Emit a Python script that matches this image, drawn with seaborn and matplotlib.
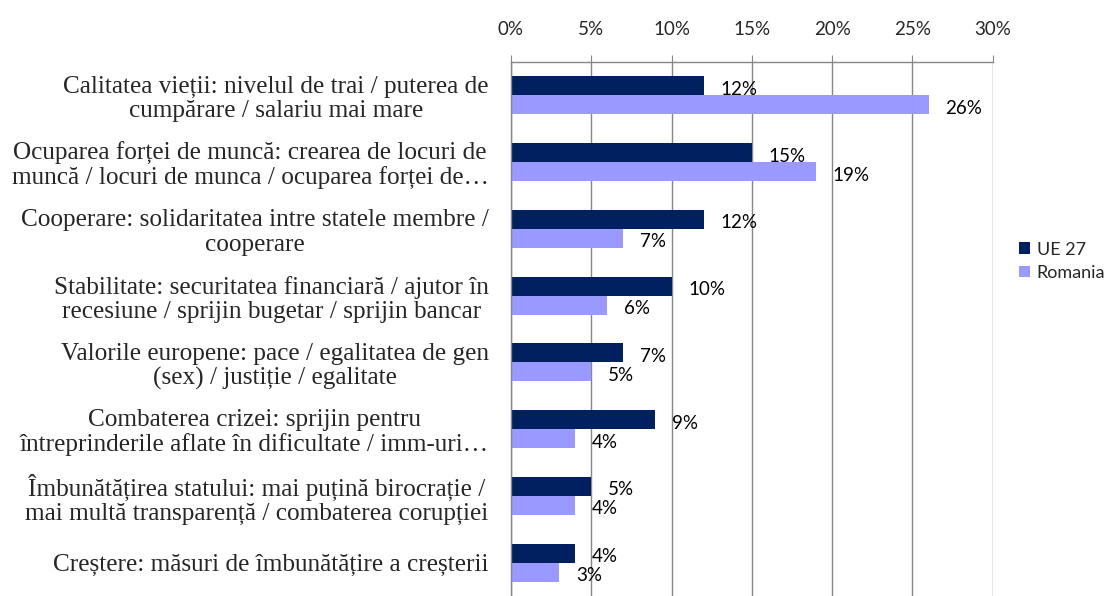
import matplotlib
matplotlib.use("Agg")
import matplotlib.pyplot as plt
import matplotlib.ticker as mticker
import numpy as np
import pandas as pd
import seaborn as sns

categories = [
    "Calitatea vieții: nivelul de trai / puterea de\ncumpărare / salariu mai mare",
    "Ocuparea forței de muncă: crearea de locuri de\nmuncă / locuri de munca / ocuparea forței de…",
    "Cooperare: solidaritatea intre statele membre /\ncooperare",
    "Stabilitate: securitatea financiară / ajutor în\nrecesiune / sprijin bugetar / sprijin bancar",
    "Valorile europene: pace / egalitatea de gen\n(sex) / justiție / egalitate",
    "Combaterea crizei: sprijin pentru\nîntreprinderile aflate în dificultate / imm-uri…",
    "Îmbunătățirea statului: mai puțină birocrație /\nmai multă transparență / combaterea corupției",
    "Creștere: măsuri de îmbunătățire a creșterii",
]
series_names = ["UE 27", "Romania"]
ue27 = [12, 15, 12, 10, 7, 9, 5, 4]
romania = [26, 19, 7, 6, 5, 4, 4, 3]
x_ticks = [0, 5, 10, 15, 20, 25, 30]

colors = ["#002060", "#9999FF"]

df = pd.DataFrame({
    "category": categories * 2,
    "series": [series_names[0]] * len(categories) + [series_names[1]] * len(categories),
    "value": ue27 + romania,
})

sns.set_style("white")
label_font = ["Lato", "DejaVu Sans"]

fig = plt.figure(figsize=(11.13, 5.96), dpi=100)
ax = fig.add_axes([0.459, 0.0, 0.433, 0.896])

sns.barplot(data=df, y="category", x="value", hue="series", order=categories,
            hue_order=series_names, palette=colors, orient="h", width=0.57,
            saturation=1, linewidth=0, ax=ax, legend=True)

# value labels, a bit right of and slightly below the bar end
for cont in ax.containers:
    anns = ax.bar_label(cont, labels=[f"{v:.0f}%" for v in cont.datavalues], padding=12,
                        fontsize=13.5, family=label_font, color="#000000")
    for a in anns:
        dx, dy = a.xyann
        a.xyann = (dx, dy - 2.5)

ax.set_xlim(0, 30)
ax.set_xticks(x_ticks)
ax.xaxis.set_major_formatter(mticker.FuncFormatter(lambda v, p: f"{v:.0f}%"))
ax.xaxis.tick_top()
ax.tick_params(axis="x", which="major", direction="out", length=5, color="#868686",
               pad=12, labelsize=13.5)
for lab in ax.get_xticklabels():
    lab.set_family(label_font)
ax.grid(axis="x", color="#868686", linewidth=1)
ax.set_axisbelow(True)

ax.set_ylim(len(categories) - 0.5, -0.5)
ax.set_yticks(np.arange(len(categories)))
ax.set_yticks(np.arange(len(categories) + 1) - 0.5, minor=True)
ax.tick_params(axis="y", which="major", length=0, pad=16)
ax.tick_params(axis="y", which="minor", direction="out", length=8, color="#868686", width=1)
ax.set_yticklabels(categories, family="Liberation Serif", fontsize=18.2,
                   multialignment="center", linespacing=1.13)
ax.set_xlabel("")
ax.set_ylabel("")

for side in ["right", "bottom"]:
    ax.spines[side].set_visible(False)
for side in ["left", "top"]:
    ax.spines[side].set_color("#868686")
    ax.spines[side].set_linewidth(1)

handles, labels = ax.get_legend_handles_labels()
ax.legend(handles, labels, loc="center left", bbox_to_anchor=(1.02, 0.627), frameon=False,
          prop={"family": label_font, "size": 13}, handlelength=0.6, handleheight=0.6,
          handletextpad=0.4, labelspacing=0.4)

fig.savefig("out.png", dpi=100)
